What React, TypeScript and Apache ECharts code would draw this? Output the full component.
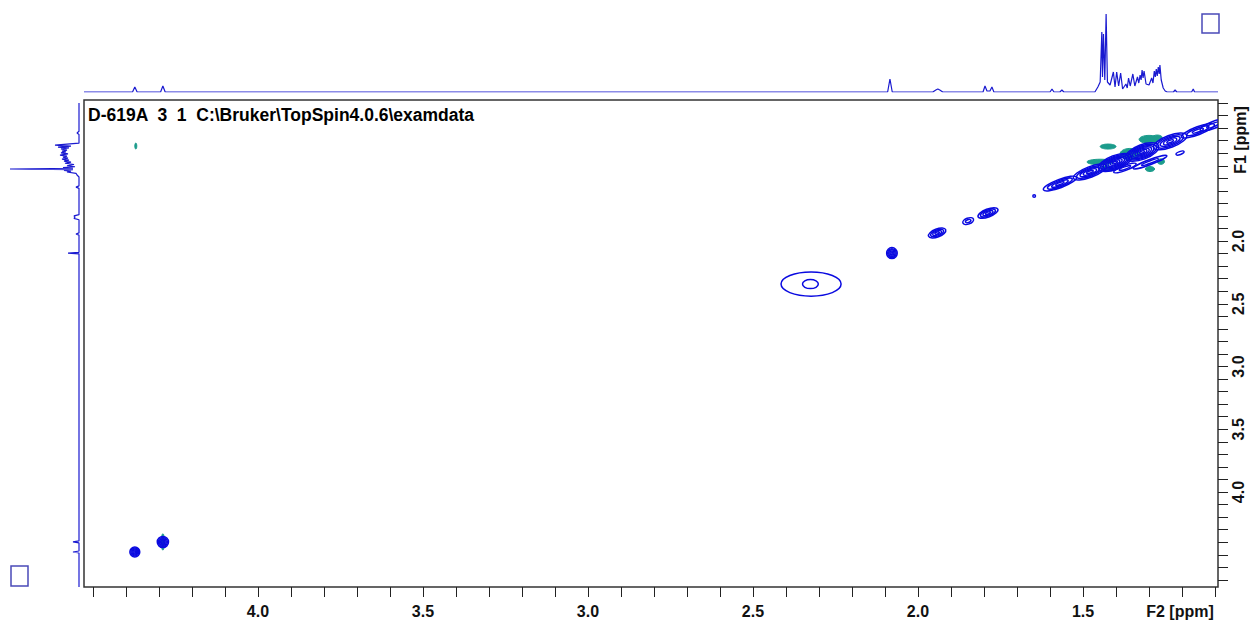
import React, { useEffect, useRef } from "react";
import * as echarts from "echarts";

// ---- axis ranges (ppm) ----
const F2_MIN = 1.091;
const F2_MAX = 4.527;
const F1_MIN = 0.876;
const F1_MAX = 4.757;

// ---- tick positions and labels ----
const f2TickValues = [4.5, 4.4, 4.3, 4.2, 4.1, 4.0, 3.9, 3.8, 3.7, 3.6, 3.5, 3.4, 3.3, 3.2, 3.1, 3.0, 2.9, 2.8, 2.7, 2.6, 2.5, 2.4, 2.3, 2.2, 2.1, 2.0, 1.9, 1.8, 1.7, 1.6, 1.5, 1.4, 1.3, 1.2, 1.1];
const f2LabelValues = [4.0, 3.5, 3.0, 2.5, 2.0, 1.5];
const f1TickValues = [0.9, 1.0, 1.1, 1.2, 1.3, 1.4, 1.5, 1.6, 1.7, 1.8, 1.9, 2.0, 2.1, 2.2, 2.3, 2.4, 2.5, 2.6, 2.7, 2.8, 2.9, 3.0, 3.1, 3.2, 3.3, 3.4, 3.5, 3.6, 3.7, 3.8, 3.9, 4.0, 4.1, 4.2, 4.3, 4.4, 4.5, 4.6, 4.7];
const f1LabelValues = [2.0, 2.5, 3.0, 3.5, 4.0];

const titleText = "D-619A  3  1  C:\\Bruker\\TopSpin4.0.6\\examdata";
const f1Name = "F1 [ppm]";
const f2Name = "F2 [ppm]";

// ---- 1D projection along F2 (top): [ppm, intensity] ----
const topSpectrum = [
  [4.527, 0], [4.38, 0], [4.373, 5], [4.366, 0],
  [4.295, 0], [4.288, 6], [4.281, 0],
  [2.092, 0], [2.085, 13], [2.078, 0],
  [1.955, 0], [1.946, 2], [1.94, 3], [1.934, 2], [1.925, 0],
  [1.803, 0], [1.797, 6], [1.791, 1], [1.782, 1], [1.776, 5], [1.77, 0],
  [1.6, 0], [1.594, 3], [1.588, 0], [1.57, 0], [1.564, 2], [1.558, 0],
  [1.464, 0], [1.455, 5], [1.448, 10], [1.443, 60], [1.441, 15], [1.438, 58],
  [1.434, 12], [1.43, 78], [1.426, 10], [1.418, 7], [1.408, 20], [1.403, 5],
  [1.398, 20], [1.392, 6], [1.386, 19], [1.38, 3], [1.37, 8], [1.366, 4],
  [1.362, 14], [1.357, 6], [1.349, 18], [1.343, 6], [1.335, 15], [1.331, 9],
  [1.327, 17], [1.324, 12], [1.321, 22], [1.318, 14], [1.315, 21], [1.309, 8],
  [1.3, 7], [1.292, 14], [1.288, 9], [1.284, 21], [1.281, 15], [1.278, 23],
  [1.275, 16], [1.272, 25], [1.269, 18], [1.267, 27], [1.263, 12], [1.257, 4],
  [1.251, 1], [1.245, 0],
  [1.226, 0], [1.221, 2], [1.216, 0],
  [1.171, 0], [1.166, 3], [1.162, 0],
  [1.091, 0]
];

// ---- 1D projection along F1 (left): [ppm, intensity] ----
const leftSpectrum = [
  [0.9, 0], [1.125, 0], [1.139, 2], [1.15, 0],
  [1.22, 0], [1.235, 24], [1.243, 8], [1.251, 21], [1.258, 10], [1.266, 18],
  [1.275, 12], [1.283, 17], [1.29, 13], [1.298, 18], [1.306, 11], [1.315, 19],
  [1.323, 12], [1.331, 16], [1.339, 11], [1.347, 17], [1.355, 10], [1.363, 15],
  [1.371, 8], [1.38, 14], [1.39, 5], [1.4, 12], [1.408, 4], [1.414, 16],
  [1.42, 6], [1.426, 69], [1.432, 6], [1.438, 15], [1.444, 8], [1.45, 12],
  [1.46, 3], [1.474, 2], [1.49, 0],
  [1.56, 0], [1.57, 3], [1.58, 0],
  [1.79, 0], [1.8, 5], [1.81, 4], [1.82, 5], [1.83, 0],
  [1.935, 0], [1.944, 3], [1.953, 0],
  [2.09, 0], [2.096, 11], [2.102, 0],
  [4.39, 0], [4.398, 6], [4.406, 0],
  [4.47, 0], [4.478, 6], [4.486, 0],
  [4.757, 0]
];

// ---- 2D contour peaks: [F2 ppm, F1 ppm, halfMajor ppm, halfMinor ppm (F1), tilt(1=diagonal), levels] ----
const negativePeaks = [
  [1.448, 1.37, 0.04, 0.022, 0, 1],
  [1.424, 1.247, 0.024, 0.02, 0, 1],
  [1.30, 1.19, 0.03, 0.032, 0, 1],
  [1.275, 1.175, 0.015, 0.02, 0, 1],
  [1.43, 1.42, 0.016, 0.02, 0, 1],
  [1.297, 1.426, 0.014, 0.02, 0, 1],
  [1.264, 1.367, 0.011, 0.022, 0, 1],
  [1.358, 1.307, 0.03, 0.045, 0, 1],
  [4.288, 4.398, 0.005, 0.065, 0, 1],
  [4.37, 1.243, 0.003, 0.024, 0, 1]
];

const positivePeaks = [
  [1.57, 1.542, 0.05, 0.034, 1, 4],
  [1.479, 1.45, 0.05, 0.042, 1, 5],
  [1.403, 1.374, 0.05, 0.056, 1, 7],
  [1.321, 1.291, 0.05, 0.058, 1, 7],
  [1.236, 1.206, 0.05, 0.048, 1, 5],
  [1.152, 1.121, 0.05, 0.032, 1, 3],
  [1.105, 1.075, 0.04, 0.028, 1, 2],
  [1.297, 1.371, 0.051, 0.02, 1, 2],
  [1.373, 1.418, 0.034, 0.02, 1, 2],
  [1.206, 1.299, 0.012, 0.012, 1, 1],
  [1.648, 1.641, 0.004, 0.01, 0, 1],
  [2.079, 2.096, 0.016, 0.044, 0, 5],
  [1.942, 1.936, 0.026, 0.032, 1, 4],
  [1.848, 1.841, 0.016, 0.024, 1, 2],
  [1.788, 1.777, 0.03, 0.032, 1, 4],
  [2.324, 2.343, 0.091, 0.096, 0, 1],
  [2.326, 2.343, 0.024, 0.036, 0, 1],
  [4.373, 4.478, 0.015, 0.04, 0, 5],
  [4.288, 4.398, 0.017, 0.044, 0, 5]
];

const BLUE = "#0a0ae0";
const TEAL = "#1c9c8c";
const LINE_BLUE = "#1a1ad0";
const BOX_BLUE = "#4a4ab8";
const FONT = '"Liberation Sans", Arial, sans-serif';

function makeRender(negative: boolean) {
  return (params: any, api: any) => {
    const cx = api.value(0);
    const cy = api.value(1);
    const a = api.value(2);
    const b = api.value(3);
    const tilt = api.value(4);
    const levels = api.value(5);
    const c = api.coord([cx, cy]);
    const e = api.coord(tilt ? [cx + a, cy + a] : [cx + a, cy]);
    const dx = e[0] - c[0];
    const dy = e[1] - c[1];
    const R = Math.sqrt(dx * dx + dy * dy);
    const rot = Math.atan2(-dy, dx);
    const r = Math.abs(api.size([0, b])[1]);
    const children: any[] = [];
    for (let i = 0; i < levels; i++) {
      const s = 1 - i / levels;
      children.push({
        type: "ellipse",
        shape: { cx: 0, cy: 0, rx: Math.max(R * s, 0.6), ry: Math.max(r * s, 0.6) },
        style: negative
          ? { fill: TEAL, stroke: TEAL, lineWidth: 1 }
          : { fill: "none", stroke: BLUE, lineWidth: 1.5 }
      });
    }
    return { type: "group", x: c[0], y: c[1], rotation: rot, children };
  };
}

export default function App() {
  const ref = useRef<HTMLDivElement>(null);

  useEffect(() => {
    if (!ref.current) return;
    const chart = echarts.init(ref.current, undefined, { renderer: "svg" });
    const labelStyle = { fontFamily: FONT, fontWeight: "bold" as const, fontSize: 16, color: "#111" };

    chart.setOption({
      animation: false,
      backgroundColor: "#ffffff",
      grid: [
        { left: 84, top: 100, width: 1134, height: 487, show: true, borderColor: "#333", borderWidth: 1.5, backgroundColor: "transparent" },
        { left: 84, top: 12, width: 1134, height: 80, show: false },
        { left: 4, top: 100, width: 75, height: 487, show: false }
      ],
      xAxis: [
        {
          gridIndex: 0, type: "value", min: F2_MIN, max: F2_MAX, inverse: true, position: "bottom",
          axisLine: { show: false },
          splitLine: { show: false },
          axisTick: { show: true, inside: false, length: 10, customValues: f2TickValues, lineStyle: { color: "#222", width: 1 } },
          axisLabel: { ...labelStyle, margin: 16, customValues: f2LabelValues, formatter: (v: number) => v.toFixed(1) }
        },
        { gridIndex: 1, type: "value", min: F2_MIN, max: F2_MAX, inverse: true, show: false },
        { gridIndex: 2, type: "value", min: 0, max: 75, inverse: true, show: false }
      ],
      yAxis: [
        {
          gridIndex: 0, type: "value", min: F1_MIN, max: F1_MAX, inverse: true, position: "right",
          axisLine: { show: false },
          splitLine: { show: false },
          axisTick: { show: true, inside: false, length: 10, customValues: f1TickValues, lineStyle: { color: "#222", width: 1 } },
          axisLabel: { ...labelStyle, margin: 12, rotate: 90, customValues: f1LabelValues, formatter: (v: number) => v.toFixed(1) }
        },
        { gridIndex: 1, type: "value", min: 0, max: 80, show: false },
        { gridIndex: 2, type: "value", min: F1_MIN, max: F1_MAX, inverse: true, show: false }
      ],
      series: [
        {
          type: "line", xAxisIndex: 1, yAxisIndex: 1, data: topSpectrum,
          showSymbol: false, symbol: "none", lineStyle: { color: LINE_BLUE, width: 1.2 }, silent: true
        },
        {
          type: "line", xAxisIndex: 2, yAxisIndex: 2, data: leftSpectrum.map((p) => [p[1], p[0]]),
          showSymbol: false, symbol: "none", lineStyle: { color: LINE_BLUE, width: 1.2 }, silent: true
        },
        {
          type: "custom", xAxisIndex: 0, yAxisIndex: 0, clip: true, data: negativePeaks,
          renderItem: makeRender(true), silent: true
        },
        {
          type: "custom", xAxisIndex: 0, yAxisIndex: 0, clip: true, data: positivePeaks,
          renderItem: makeRender(false), silent: true
        }
      ],
      graphic: [
        {
          type: "text", x: 88, y: 115,
          style: { text: titleText, font: `bold 17.5px ${FONT}`, fill: "#000", align: "left", verticalAlign: "middle", textAlign: "left", textVerticalAlign: "middle" }
        },
        {
          type: "text", x: 1240, y: 140, rotation: Math.PI / 2,
          style: { text: f1Name, font: `bold 16px ${FONT}`, fill: "#111", align: "center", verticalAlign: "middle", textAlign: "center", textVerticalAlign: "middle" }
        },
        {
          type: "text", x: 1180, y: 611,
          style: { text: f2Name, font: `bold 16px ${FONT}`, fill: "#111", align: "center", verticalAlign: "middle", textAlign: "center", textVerticalAlign: "middle" }
        },
        { type: "rect", shape: { x: 1202, y: 14, width: 17, height: 19 }, style: { fill: "none", stroke: BOX_BLUE, lineWidth: 1.5 } },
        { type: "rect", shape: { x: 11, y: 566, width: 17, height: 20 }, style: { fill: "none", stroke: BOX_BLUE, lineWidth: 1.5 } }
      ]
    });

    return () => chart.dispose();
  }, []);

  return <div ref={ref} style={{ position: "fixed", left: 0, top: 0, width: 1256, height: 626 }} />;
}
